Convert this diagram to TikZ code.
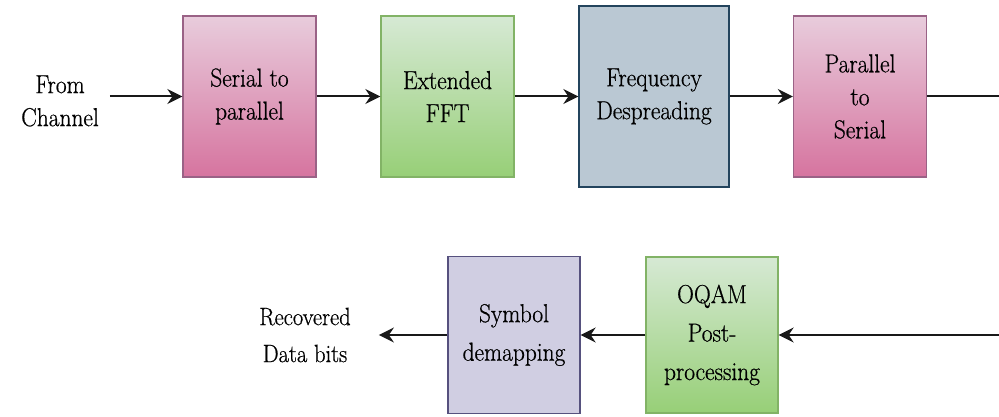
\documentclass[tikz,border=0pt]{standalone}
\usepackage{fontspec}
\setmainfont{Latin Modern Roman}[FakeStretch=0.9, FakeBold=0.6]
\usetikzlibrary{arrows.meta}
\definecolor{pinkTop}{HTML}{E8CCDC}
\definecolor{pinkBot}{HTML}{D6749F}
\definecolor{pinkLine}{HTML}{9A6286}
\definecolor{greenTop}{HTML}{D6E9D4}
\definecolor{greenBot}{HTML}{97CF77}
\definecolor{greenLine}{HTML}{82B366}
\definecolor{blueFill}{HTML}{BAC8D3}
\definecolor{blueLine}{HTML}{23445D}
\definecolor{lavFill}{HTML}{D0CEE2}
\definecolor{lavLine}{HTML}{56517E}
\tikzset{
  txt/.style={font=\fontsize{26}{33}\selectfont, align=center, text=black},
  txtb/.style={font=\fontsize{26}{38.5}\selectfont},
  blk/.style={txt, draw, line width=1.3pt, inner sep=0pt},
  pinkbox/.style={blk, draw=pinkLine, top color=pinkTop, bottom color=pinkBot, minimum width=133pt, minimum height=161pt},
  greenbox/.style={blk, draw=greenLine, top color=greenTop, bottom color=greenBot, minimum width=133pt, minimum height=161pt},
  bluebox/.style={blk, draw=blueLine, fill=blueFill, minimum width=150pt, minimum height=181pt},
  lavbox/.style={blk, txtb, draw=lavLine, fill=lavFill, minimum width=132pt, minimum height=157pt},
  greenboxb/.style={greenbox, txtb, minimum width=132pt, minimum height=156pt},
  conn/.style={line width=2pt, draw=black!90},
  arr/.style={conn, -{Stealth[length=15pt, width=15pt, inset=5pt]}}
}
\begin{document}
\begin{tikzpicture}[x=1pt, y=1pt]
\useasboundingbox (0,0) rectangle (999,416);
\node[txt, inner xsep=11pt] (from) at (60,315) {From\\Channel};
\node[pinkbox] (sp) at (249.5,319.5) {Serial to\\parallel};
\node[greenbox] (fft) at (447.5,319.5) {Extended\\FFT};
\node[bluebox] (fd) at (654,319.5) {Frequency\\Despreading};
\node[pinkbox] (ps) at (860,319.5) {Parallel\\to\\Serial};
\coordinate (rt) at (999,319.5);
\node[greenboxb] (oqam) at (712,81) {OQAM\\Post-\\processing};
\node[lavbox] (sym) at (514,81) {Symbol\\demapping};
\coordinate (rb) at (999,81);
\node[txt, font=\fontsize{25}{37}\selectfont, inner xsep=28pt] (rec) at (305,81) {Recovered\\Data bits};
\draw[arr] (from.east |- sp.west) -- (sp.west);
\draw[arr] (sp.east) -- (fft.west);
\draw[arr] (fft.east) -- (fd.west);
\draw[arr] (fd.east) -- (ps.west);
\draw[conn] (ps.east) -- (rt);
\draw[arr] (rb) -- (oqam.east);
\draw[arr] (oqam.west) -- (sym.east);
\draw[arr] (sym.west) -- (rec.east |- sym.west);
\end{tikzpicture}
\end{document}
